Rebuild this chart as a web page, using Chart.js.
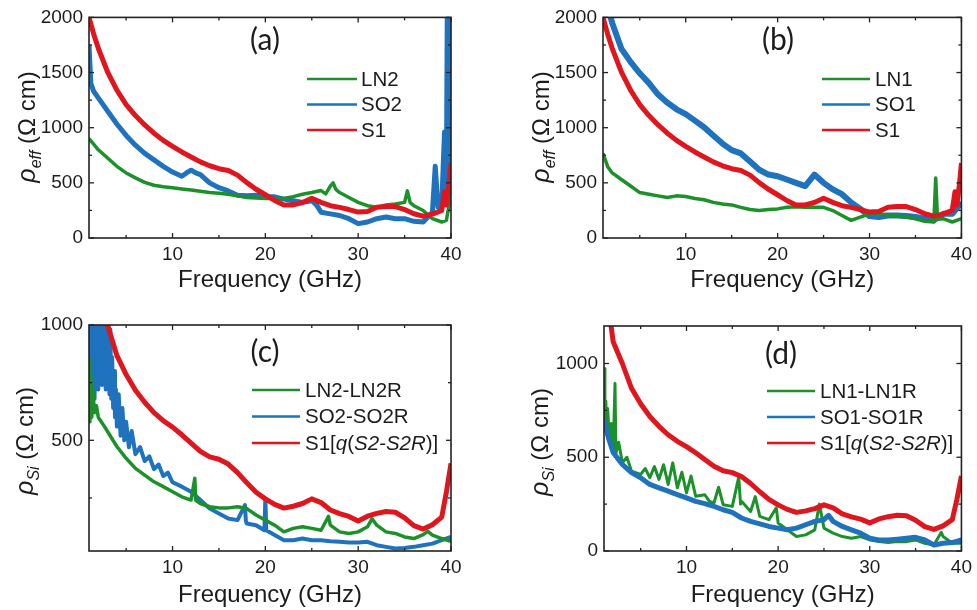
<!DOCTYPE html>
<html><head><meta charset="utf-8">
<style>
html,body{margin:0;padding:0;background:#fff;width:977px;height:610px;overflow:hidden}
canvas{position:absolute;display:block}
</style>
<script src="https://cdn.jsdelivr.net/npm/chart.js@4.4.1/dist/chart.umd.min.js"></script>
</head><body>
<canvas id="ca" width="490" height="305" style="left:0;top:0"></canvas>
<canvas id="cb" width="487" height="305" style="left:490px;top:0"></canvas>
<canvas id="cc" width="490" height="305" style="left:0;top:305px"></canvas>
<canvas id="cd" width="487" height="305" style="left:490px;top:305px"></canvas>
<script>
// ---------------- DATA (frequency GHz, resistivity Ohm cm) ----------------
const xTickValues = [10, 20, 30, 40];
const xMinorValues = [5, 15, 25, 35];
const yTicksEff = [0, 500, 1000, 1500, 2000];
const yMinorEff = [250, 750, 1250, 1750];
const yTicksC = [500, 1000];
const yMinorC = [250, 750];
const yTicksD = [0, 500, 1000];
const yMinorD = [250, 750];

const labelsA = ['LN2', 'SO2', 'S1'];
const labelsB = ['LN1', 'SO1', 'S1'];
const labelsC = ['LN2-LN2R', 'SO2-SO2R', 'S1[q(S2-S2R)]'];
const labelsD = ['LN1-LN1R', 'SO1-SO1R', 'S1[q(S2-S2R)]'];

// S1 effective resistivity (shared by panels a and b)
const s1Eff = [[1,2000],[1.5,1850],[2,1720],[3,1505],[4,1340],[5,1210],[6,1110],[7,1025],[8,950],[9,885],[10,830],[11,780],[12,735],[13,690],[14,655],[15,628],[16,612],[17,570],[18,502],[19,442],[20,392],[21,340],[22,300],[23,300],[24,322],[25,360],[26,323],[27,293],[28,278],[29,258],[30,235],[31,240],[32,278],[33,285],[34,285],[35,258],[36,220],[37,198],[38,217],[39,250],[39.3,420],[39.5,300],[39.8,500],[40,680]];

const ln2Eff = [[1,900],[1.5,850],[2,800],[3,725],[4,650],[5,590],[6,545],[7,505],[8,478],[9,465],[10,456],[11,445],[12,435],[13,423],[14,412],[15,405],[16,397],[17,382],[18,367],[19,362],[20,358],[21,358],[22,358],[23,375],[24,397],[25,412],[26,430],[26.5,400],[27,470],[27.3,500],[27.6,440],[28,412],[29,367],[30,323],[31,293],[32,278],[33,300],[34,308],[35,323],[35.3,427],[35.6,320],[36,293],[37,249],[38,175],[39,145],[39.5,160],[39.8,300],[40,450]];

const so2Eff = [[1,1750],[1.2,1400],[1.5,1330],[2,1270],[3,1152],[4,1034],[5,930],[6,841],[7,767],[8,708],[9,649],[10,598],[11,560],[11.5,590],[12,615],[12.5,590],[13,575],[14,500],[15,456],[16,427],[17,388],[18,382],[19,388],[20,376],[21,373],[22,353],[23,338],[24,323],[25,338],[25.5,300],[26,234],[27,219],[28,204],[29,175],[30,130],[31,145],[32,175],[33,190],[34,175],[35,175],[36,151],[37,145],[38,234],[38.3,650],[38.6,280],[39,293],[39.3,960],[39.5,400],[39.6,2100],[39.7,300],[39.8,2100],[39.9,400],[40,2100]];

const ln1Eff = [[1,767],[1.5,649],[2,590],[3,530],[4,471],[5,412],[6,397],[7,382],[8,367],[9,382],[10,376],[11,358],[12,347],[13,323],[14,308],[15,300],[16,278],[17,258],[18,249],[19,258],[20,264],[21,278],[22,284],[23,278],[24,278],[25,278],[26,249],[27,204],[28,160],[29,190],[30,219],[31,219],[32,210],[33,199],[34,190],[35,175],[36,151],[37,145],[37.2,545],[37.4,170],[38,175],[39,145],[40,175]];

const so1Eff = [[1.5,2100],[2,1950],[3,1716],[4,1597],[5,1493],[6,1404],[7,1300],[8,1227],[9,1167],[10,1123],[11,1064],[12,1004],[13,930],[14,856],[15,797],[16,767],[17,693],[18,619],[19,575],[20,560],[21,530],[22,500],[23,471],[24,575],[25,500],[26,441],[27,397],[28,323],[29,264],[30,199],[31,190],[32,204],[33,204],[34,199],[35,190],[36,175],[37,160],[38,219],[39,219],[40,323]];

// Si resistivity
const s1Si = [[1.5,1300],[2,1116],[3,1000],[4,868],[5,785],[6,717],[7,665],[8,620],[9,585],[10,557],[11,524],[12,488],[13,452],[14,428],[15,418],[16,397],[17,360],[18,316],[19,275],[20,246],[21,222],[22,206],[23,214],[24,226],[25,246],[26,230],[27,198],[28,182],[29,170],[30,150],[31,171],[32,183],[33,191],[34,188],[35,164],[36,130],[37,115],[38,134],[39,167],[39.5,275],[40,400]];

const ln2Si = [[1,850],[1.1,580],[1.2,780],[1.3,600],[1.4,720],[1.6,620],[1.8,650],[2,600],[2.5,570],[3,538],[4,473],[5,422],[6,378],[7,349],[8,320],[9,299],[10,277],[11,255],[12,241],[12.4,335],[12.5,240],[13,226],[14,212],[15,207],[16,207],[17,212],[18,204],[19,176],[20,154],[21,132],[22,103],[23,118],[24,125],[25,118],[26,110],[26.8,170],[27,132],[28,103],[29,96],[30,103],[31,125],[31.5,160],[32,132],[33,103],[34,96],[35,81],[36,74],[37,91],[37.5,105],[38,89],[39,74],[40,62]];

const so2Si = [[1,600],[1.1,1000],[1.2,650],[1.3,1000],[1.4,700],[1.5,1000],[1.6,680],[1.7,1000],[1.8,760],[1.9,1000],[2,720],[2.1,1000],[2.2,760],[2.3,1000],[2.4,740],[2.5,1000],[2.6,780],[2.7,1000],[2.8,720],[2.9,1000],[3,760],[3.1,1000],[3.2,700],[3.3,980],[3.4,680],[3.5,860],[3.6,640],[3.7,800],[3.8,600],[3.9,720],[4,560],[4.2,700],[4.4,520],[4.6,640],[4.8,500],[5,580],[5.3,470],[5.6,540],[6,440],[6.5,470],[7,410],[7.5,430],[8,375],[8.5,395],[9,345],[9.5,360],[10,318],[11,299],[12,277],[13,241],[14,204],[15,183],[16,161],[17,154],[17.8,219],[17.9,150],[18,139],[19,132],[19.9,110],[20,248],[20.1,110],[21,89],[22,67],[23,67],[24,74],[25,67],[26,67],[27,62],[28,60],[29,57],[30,57],[31,60],[32,45],[33,38],[34,31],[35,33],[36,38],[37,45],[38,52],[39,67],[40,81]];

const ln1Si = [[1,973],[1.1,640],[1.2,800],[1.3,620],[1.4,760],[1.6,580],[1.8,680],[2,525],[2.2,894],[2.3,520],[2.6,580],[3,471],[3.5,500],[4,426],[5,409],[5.5,440],[6,391],[6.5,450],[7,382],[7.5,460],[8,355],[8.5,470],[9,337],[9.5,420],[10,310],[10.5,400],[11,292],[12,300],[12.5,265],[13,256],[13.5,340],[14,247],[15,238],[15.7,394],[15.9,250],[16,265],[17,211],[17.5,290],[18,185],[19,167],[19.8,230],[20,149],[21,113],[22,77],[23,86],[24,113],[24.5,250],[25,122],[26,95],[27,77],[28,68],[29,77],[30,59],[31,50],[32,45],[33,50],[34,50],[35,59],[36,41],[37,32],[37.8,100],[38,77],[39,41],[40,41]];

const so1Si = [[1,704],[1.5,600],[2,525],[3,462],[4,418],[5,391],[6,355],[7,337],[8,319],[9,301],[10,283],[11,265],[12,253],[13,238],[14,220],[15,206],[16,176],[17,158],[18,145],[19,131],[20,122],[21,113],[22,122],[23,140],[24,158],[25,167],[25.5,190],[26,158],[27,131],[28,113],[29,95],[30,68],[31,59],[32,59],[33,63],[34,68],[35,73],[36,59],[37,32],[38,41],[39,45],[40,59]];

// ---------------- STYLE ----------------
const GREEN = 'rgb(28,145,42)', BLUE = 'rgb(30,114,190)', RED = 'rgb(224,22,30)';
const FONT = "'Liberation Sans', Arial, sans-serif";
const INK = '#1c1c1c';

function pts(arr){ return arr.map(p => ({x: p[0], y: p[1]})); }

function richSegments(label){
  const m = label.match(/^(.*\[)(q)(\()(.*)(\)\])$/);
  if (!m) return [[label, false]];
  return [[m[1], false], [m[2], true], [m[3], false], [m[4], true], [m[5], false]];
}

const decor = {
  id: 'decor',
  afterDatasetsDraw(chart, args, o) {
    const ctx = chart.ctx, a = chart.chartArea, xs = chart.scales.x, ys = chart.scales.y;
    ctx.save();
    ctx.strokeStyle = '#222';
    const line = (x1,y1,x2,y2) => { ctx.beginPath(); ctx.moveTo(x1,y1); ctx.lineTo(x2,y2); ctx.stroke(); };
    ctx.lineWidth = 1.3;
    o.xMajor.forEach(v => { const x = xs.getPixelForValue(v); line(x,a.bottom,x,a.bottom-5); line(x,a.top,x,a.top+5); });
    o.xMinor.forEach(v => { const x = xs.getPixelForValue(v); line(x,a.bottom,x,a.bottom-3); line(x,a.top,x,a.top+3); });
    o.yMajor.forEach(v => { const y = ys.getPixelForValue(v); if (y < a.top-0.5 || y > a.bottom+0.5) return; line(a.left,y,a.left+5,y); line(a.right,y,a.right-5,y); });
    o.yMinor.forEach(v => { const y = ys.getPixelForValue(v); if (y < a.top || y > a.bottom) return; line(a.left,y,a.left+3,y); line(a.right,y,a.right-3,y); });
    ctx.lineWidth = 1.6;
    ctx.strokeRect(a.left, a.top, a.right - a.left, a.bottom - a.top);

    ctx.fillStyle = INK;
    ctx.font = "30px Lato, 'Open Sans', sans-serif";
    ctx.textAlign = 'center'; ctx.textBaseline = 'middle';
    ctx.fillText(o.panel, o.panelX, o.panelY);

    ctx.textAlign = 'left'; ctx.textBaseline = 'middle';
    chart.data.datasets.forEach((ds, i) => {
      const y = o.legY + i * o.legGap;
      ctx.strokeStyle = ds.borderColor; ctx.lineWidth = 2.6;
      line(o.legX1, y, o.legX2, y);
      let x = o.legTX;
      richSegments(ds.label).forEach(([t, it]) => {
        ctx.font = (it ? 'italic ' : '') + '20.5px ' + FONT;
        ctx.fillStyle = INK;
        ctx.fillText(t, x, y + 1);
        x += ctx.measureText(t).width;
      });
    });

    ctx.fillStyle = INK;
    ctx.font = '24px ' + FONT;
    ctx.textAlign = 'center'; ctx.textBaseline = 'alphabetic';
    ctx.fillText('Frequency (GHz)', (a.left + a.right) / 2, o.xTitleY);

    const segs = [['\u03C1', 'italic 25px ' + FONT, 0], [o.ySub, 'italic 16px ' + FONT, 6], [' (\u03A9 cm)', '24px ' + FONT, 0]];
    let total = 0;
    segs.forEach(s => { ctx.font = s[1]; total += ctx.measureText(s[0]).width; });
    ctx.translate(o.yTitleX, o.yTitleY);
    ctx.rotate(-Math.PI / 2);
    ctx.textAlign = 'left';
    let x = -total / 2;
    segs.forEach(s => { ctx.font = s[1]; ctx.fillText(s[0], x, s[2]); x += ctx.measureText(s[0]).width; });
    ctx.restore();
  }
};

function makeChart(id, cfg) {
  const W = cfg.W, H = 305;
  const datasets = cfg.series.map((s, i) => ({
    label: cfg.labels[i], data: pts(s), borderColor: cfg.colors[i], borderWidth: cfg.widths[i],
    pointRadius: 0, tension: 0, fill: false, clip: 0, order: cfg.orders[i], borderJoinStyle: 'round'
  }));
  return new Chart(document.getElementById(id), {
    type: 'line',
    data: { datasets },
    options: {
      responsive: false, animation: false,
      layout: { padding: { left: 0, top: cfg.T, right: W - cfg.R, bottom: 0 } },
      plugins: { legend: { display: false }, tooltip: { enabled: false }, decor: cfg.decor },
      scales: {
        x: {
          type: 'linear', min: 1, max: 40,
          grid: { display: false, drawTicks: false }, border: { display: false },
          ticks: { font: { family: FONT, size: 19 }, color: INK, padding: 5, maxRotation: 0, autoSkip: false, callback: v => String(v) },
          afterBuildTicks: s => { s.ticks = xTickValues.map(v => ({ value: v })); },
          afterFit: s => { s.height = H - cfg.B; }
        },
        y: {
          type: 'linear', min: cfg.ymin, max: cfg.ymax,
          grid: { display: false, drawTicks: false }, border: { display: false },
          ticks: { font: { family: FONT, size: 19 }, color: INK, padding: 6, autoSkip: false, callback: v => String(v) },
          afterBuildTicks: s => { s.ticks = cfg.yTicks.map(v => ({ value: v })); },
          afterFit: s => { s.width = cfg.L; }
        }
      }
    },
    plugins: [decor]
  });
}

const cols = [GREEN, BLUE, RED];

makeChart('ca', { W: 490, L: 89, R: 451, T: 13, B: 238, ymin: 0, ymax: 2000, yTicks: yTicksEff,
  series: [ln2Eff, so2Eff, s1Eff], labels: labelsA, colors: cols, widths: [3.5, 5, 5], orders: [1, 2, 0],
  decor: { panel: '(a)', panelX: 265, panelY: 40, legX1: 307, legX2: 357, legTX: 361, legY: 79, legGap: 25.5,
    xTitleY: 287, yTitleX: 35, yTitleY: 127, ySub: 'eff', xMajor: xTickValues, xMinor: xMinorValues, yMajor: yTicksEff, yMinor: yMinorEff } });

makeChart('cb', { W: 487, L: 113, R: 475, T: 13, B: 238, ymin: 0, ymax: 2000, yTicks: yTicksEff,
  series: [ln1Eff, so1Eff, s1Eff], labels: labelsB, colors: cols, widths: [3.5, 6, 5], orders: [1, 2, 0],
  decor: { panel: '(b)', panelX: 288, panelY: 40, legX1: 332, legX2: 380, legTX: 385, legY: 79, legGap: 25.5,
    xTitleY: 287, yTitleX: 59, yTitleY: 127, ySub: 'eff', xMajor: xTickValues, xMinor: xMinorValues, yMajor: yTicksEff, yMinor: yMinorEff } });

makeChart('cc', { W: 490, L: 89, R: 451, T: 20, B: 246, ymin: 20, ymax: 1000, yTicks: yTicksC,
  series: [ln2Si, so2Si, s1Si], labels: labelsC, colors: cols, widths: [3.5, 4, 5], orders: [1, 2, 0],
  decor: { panel: '(c)', panelX: 265, panelY: 47, legX1: 252, legX2: 300, legTX: 305, legY: 85, legGap: 26.5,
    xTitleY: 297, yTitleX: 33, yTitleY: 136, ySub: 'Si', xMajor: xTickValues, xMinor: xMinorValues, yMajor: yTicksC, yMinor: yMinorC } });

makeChart('cd', { W: 487, L: 114, R: 475, T: 21, B: 246, ymin: 0, ymax: 1200, yTicks: yTicksD,
  series: [ln1Si, so1Si, s1Si], labels: labelsD, colors: cols, widths: [3, 5, 5], orders: [2, 1, 0],
  decor: { panel: '(d)', panelX: 291, panelY: 49, legX1: 277, legX2: 325, legTX: 330, legY: 86, legGap: 26,
    xTitleY: 297, yTitleX: 58, yTitleY: 137, ySub: 'Si', xMajor: xTickValues, xMinor: xMinorValues, yMajor: yTicksD, yMinor: yMinorD } });
</script>
</body></html>
